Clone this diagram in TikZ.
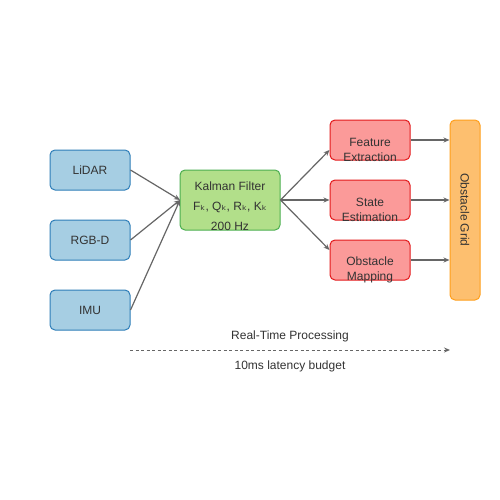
\documentclass[tikz,border=0pt]{standalone}
\usepackage{fontspec}
\setmainfont{Liberation Sans}
\newfontfamily\djv{DejaVu Sans}
\usetikzlibrary{arrows.meta}
\definecolor{txt}{HTML}{333333}
\definecolor{bluefill}{HTML}{A6CEE3}
\definecolor{blueline}{HTML}{2E7EB8}
\definecolor{greenfill}{HTML}{B2DF8A}
\definecolor{greenline}{HTML}{4CAF50}
\definecolor{redfill}{HTML}{FB9A99}
\definecolor{redline}{HTML}{E31A1C}
\definecolor{orangefill}{HTML}{FDBF6F}
\definecolor{orangeline}{HTML}{FF9F1C}
\definecolor{arr}{HTML}{666666}
\tikzset{
  base/.style={rounded corners=5pt, line width=1pt, inner sep=0pt, text=txt,
    font=\fontsize{12}{15}\selectfont, align=center},
  sensor/.style={base, draw=blueline, fill=bluefill, minimum width=80pt, minimum height=40pt},
  filt/.style={base, draw=greenline, fill=greenfill, minimum width=100pt, minimum height=60pt},
  proc/.style={base, draw=redline, fill=redfill, minimum width=80pt, minimum height=40pt},
  grid/.style={base, draw=orangeline, fill=orangefill, minimum width=30pt, minimum height=180pt},
  inlabel/.style={text=txt, font=\fontsize{12}{15}\selectfont, align=center},
  conn/.style={draw=arr, line width=1.2pt, -{Stealth[length=6pt,width=5pt]}},
  dconn/.style={draw=arr, line width=1pt, dashed, dash pattern=on 3pt off 2.5pt, -{Stealth[length=6pt,width=5pt]}},
}
\begin{document}
\begin{tikzpicture}[x=1pt,y=-1pt]
\useasboundingbox (0,0) rectangle (500,500);
\fill[white] (0,0) rectangle (500,500);
% sensors
\node[sensor] (lidar) at (90,170) {LiDAR};
\node[sensor] (rgbd) at (90,240) {RGB-D};
\node[sensor] (imu) at (90,310) {IMU};
% filter
\node[filt, label={[inlabel, yshift=-6pt, font=\fontsize{12}{20}\selectfont]center:Kalman Filter\\F{\djv ₖ}, Q{\djv ₖ}, R{\djv ₖ}, K{\djv ₖ}\\200 Hz}] (kf) at (230,200) {};
% processing
\node[proc, label={[inlabel, yshift=-10pt]center:Feature\\Extraction}] (fe) at (370,140) {};
\node[proc, label={[inlabel, yshift=-10pt]center:State\\Estimation}] (se) at (370,200) {};
\node[proc, label={[inlabel, yshift=-10pt]center:Obstacle\\Mapping}] (om) at (370,260) {};
% grid
\node[grid] (og) at (465,210) {\rotatebox{-90}{Obstacle Grid}};
% connectors
\coordinate (kfin) at (180,200);
\draw[conn] (lidar.east) -- (kfin);
\draw[conn] (rgbd.east) -- (kfin);
\draw[conn] (imu.east) -- (kfin);
\draw[conn] (kf.east) -- ([yshift=-10pt]fe.west);
\draw[conn] (kf.east) -- (se.west);
\draw[conn] (kf.east) -- ([yshift=10pt]om.west);
\draw[conn] (fe.east) -- (fe.east -| og.west);
\draw[conn] (se.east) -- (se.east -| og.west);
\draw[conn] (om.east) -- (om.east -| og.west);
% timeline
\coordinate (tl0) at (130,350);
\coordinate (tl1) at (450,350);
\draw[dconn] (tl0) -- (tl1);
\node[inlabel] (rtp) at (290,336) {Real-Time Processing};
\node[inlabel] (lat) at (290,366) {10ms latency budget};
\end{tikzpicture}
\end{document}
